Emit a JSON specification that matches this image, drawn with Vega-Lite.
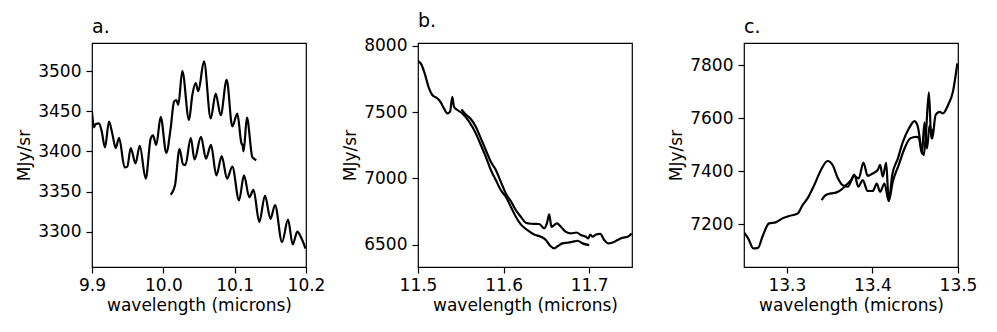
{
"$schema": "https://vega.github.io/schema/vega-lite/v6.json",
"padding": {"left": 14, "top": 11, "right": 5, "bottom": 5},
"bounds": "flush",
"spacing": 112,
"datasets": {
"a": [
{"s":"1","w":9.9000,"v":3450},{"s":"1","w":9.9028,"v":3430},{"s":"1","w":9.9052,"v":3434},{"s":"1","w":9.9098,"v":3435},{"s":"1","w":9.9136,"v":3425},{"s":"1","w":9.9182,"v":3405},{"s":"1","w":9.9238,"v":3437},{"s":"1","w":9.9285,"v":3422},{"s":"1","w":9.9332,"v":3404},{"s":"1","w":9.9379,"v":3417},{"s":"1","w":9.9458,"v":3380},{"s":"1","w":9.9495,"v":3381},{"s":"1","w":9.9543,"v":3404},{"s":"1","w":9.9610,"v":3385},{"s":"1","w":9.9669,"v":3407},{"s":"1","w":9.9753,"v":3366},{"s":"1","w":9.9823,"v":3416},{"s":"1","w":9.9855,"v":3420},{"s":"1","w":9.9901,"v":3408},{"s":"1","w":9.9963,"v":3443},{"s":"1","w":10.0042,"v":3398},{"s":"1","w":10.0103,"v":3429},{"s":"1","w":10.0150,"v":3462},{"s":"1","w":10.0182,"v":3464},{"s":"1","w":10.0210,"v":3458},{"s":"1","w":10.0266,"v":3500},{"s":"1","w":10.0360,"v":3439},{"s":"1","w":10.0406,"v":3470},{"s":"1","w":10.0454,"v":3485},{"s":"1","w":10.0490,"v":3475},{"s":"1","w":10.0570,"v":3512},{"s":"1","w":10.0664,"v":3441},{"s":"1","w":10.0734,"v":3472},{"s":"1","w":10.0804,"v":3445},{"s":"1","w":10.0888,"v":3489},{"s":"1","w":10.0967,"v":3431},{"s":"1","w":10.1037,"v":3447},{"s":"1","w":10.1095,"v":3410},{"s":"1","w":10.1110,"v":3408},{"s":"1","w":10.1125,"v":3400},{"s":"1","w":10.1172,"v":3442},{"s":"1","w":10.1247,"v":3393},{"s":"1","w":10.1270,"v":3391},{"s":"1","w":10.1303,"v":3389},
{"s":"2","w":10.0103,"v":3346},{"s":"2","w":10.0164,"v":3358},{"s":"2","w":10.0227,"v":3403},{"s":"2","w":10.0276,"v":3384},{"s":"2","w":10.0310,"v":3383},{"s":"2","w":10.0384,"v":3417},{"s":"2","w":10.0437,"v":3390},{"s":"2","w":10.0528,"v":3418},{"s":"2","w":10.0598,"v":3391},{"s":"2","w":10.0668,"v":3408},{"s":"2","w":10.0743,"v":3370},{"s":"2","w":10.0818,"v":3394},{"s":"2","w":10.0893,"v":3366},{"s":"2","w":10.0967,"v":3381},{"s":"2","w":10.1061,"v":3339},{"s":"2","w":10.1131,"v":3370},{"s":"2","w":10.1205,"v":3343},{"s":"2","w":10.1264,"v":3352},{"s":"2","w":10.1345,"v":3312},{"s":"2","w":10.1425,"v":3345},{"s":"2","w":10.1502,"v":3316},{"s":"2","w":10.1566,"v":3333},{"s":"2","w":10.1664,"v":3287},{"s":"2","w":10.1748,"v":3315},{"s":"2","w":10.1814,"v":3284},{"s":"2","w":10.1878,"v":3300},{"s":"2","w":10.1930,"v":3293},{"s":"2","w":10.1993,"v":3279}
],
"b": [
{"s":"1","w":11.5000,"v":7885},{"s":"1","w":11.5039,"v":7859},{"s":"1","w":11.5078,"v":7791},{"s":"1","w":11.5129,"v":7678},{"s":"1","w":11.5167,"v":7628},{"s":"1","w":11.5226,"v":7603},{"s":"1","w":11.5266,"v":7572},{"s":"1","w":11.5304,"v":7527},{"s":"1","w":11.5343,"v":7490},{"s":"1","w":11.5374,"v":7502},{"s":"1","w":11.5401,"v":7615},{"s":"1","w":11.5421,"v":7540},{"s":"1","w":11.5460,"v":7515},{"s":"1","w":11.5518,"v":7490},{"s":"1","w":11.5597,"v":7427},{"s":"1","w":11.5675,"v":7339},{"s":"1","w":11.5734,"v":7251},{"s":"1","w":11.5792,"v":7163},{"s":"1","w":11.5851,"v":7063},{"s":"1","w":11.5909,"v":6987},{"s":"1","w":11.5967,"v":6912},{"s":"1","w":11.6026,"v":6861},{"s":"1","w":11.6084,"v":6786},{"s":"1","w":11.6143,"v":6711},{"s":"1","w":11.6201,"v":6653},{"s":"1","w":11.6279,"v":6610},{"s":"1","w":11.6357,"v":6577},{"s":"1","w":11.6435,"v":6560},{"s":"1","w":11.6494,"v":6535},{"s":"1","w":11.6544,"v":6492},{"s":"1","w":11.6591,"v":6472},{"s":"1","w":11.6638,"v":6492},{"s":"1","w":11.6688,"v":6510},{"s":"1","w":11.6747,"v":6515},{"s":"1","w":11.6805,"v":6522},{"s":"1","w":11.6864,"v":6530},{"s":"1","w":11.6922,"v":6510},{"s":"1","w":11.7000,"v":6497},
{"s":"2","w":11.5507,"v":7520},{"s":"2","w":11.5558,"v":7482},{"s":"2","w":11.5617,"v":7447},{"s":"2","w":11.5675,"v":7389},{"s":"2","w":11.5734,"v":7301},{"s":"2","w":11.5792,"v":7214},{"s":"2","w":11.5851,"v":7125},{"s":"2","w":11.5909,"v":7063},{"s":"2","w":11.5967,"v":6975},{"s":"2","w":11.6026,"v":6886},{"s":"2","w":11.6084,"v":6829},{"s":"2","w":11.6143,"v":6761},{"s":"2","w":11.6201,"v":6711},{"s":"2","w":11.6260,"v":6665},{"s":"2","w":11.6318,"v":6658},{"s":"2","w":11.6416,"v":6656},{"s":"2","w":11.6474,"v":6623},{"s":"2","w":11.6506,"v":6660},{"s":"2","w":11.6533,"v":6728},{"s":"2","w":11.6559,"v":6635},{"s":"2","w":11.6591,"v":6648},{"s":"2","w":11.6623,"v":6660},{"s":"2","w":11.6669,"v":6635},{"s":"2","w":11.6728,"v":6597},{"s":"2","w":11.6786,"v":6585},{"s":"2","w":11.6852,"v":6592},{"s":"2","w":11.6903,"v":6573},{"s":"2","w":11.6962,"v":6560},{"s":"2","w":11.6989,"v":6547},{"s":"2","w":11.7012,"v":6577},{"s":"2","w":11.7039,"v":6560},{"s":"2","w":11.7079,"v":6577},{"s":"2","w":11.7129,"v":6582},{"s":"2","w":11.7176,"v":6535},{"s":"2","w":11.7223,"v":6510},{"s":"2","w":11.7273,"v":6517},{"s":"2","w":11.7332,"v":6535},{"s":"2","w":11.7390,"v":6552},{"s":"2","w":11.7449,"v":6560},{"s":"2","w":11.7496,"v":6585}
],
"c": [
{"s":"1","w":13.2500,"v":7170},{"s":"1","w":13.2550,"v":7147},{"s":"1","w":13.2609,"v":7110},{"s":"1","w":13.2664,"v":7112},{"s":"1","w":13.2715,"v":7154},{"s":"1","w":13.2793,"v":7204},{"s":"1","w":13.2871,"v":7208},{"s":"1","w":13.2949,"v":7223},{"s":"1","w":13.3027,"v":7232},{"s":"1","w":13.3125,"v":7241},{"s":"1","w":13.3184,"v":7273},{"s":"1","w":13.3242,"v":7298},{"s":"1","w":13.3320,"v":7348},{"s":"1","w":13.3399,"v":7405},{"s":"1","w":13.3476,"v":7439},{"s":"1","w":13.3535,"v":7424},{"s":"1","w":13.3594,"v":7376},{"s":"1","w":13.3652,"v":7348},{"s":"1","w":13.3711,"v":7342},{"s":"1","w":13.3789,"v":7383},{"s":"1","w":13.3840,"v":7373},{"s":"1","w":13.3895,"v":7433},{"s":"1","w":13.3945,"v":7383},{"s":"1","w":13.4004,"v":7392},{"s":"1","w":13.4062,"v":7405},{"s":"1","w":13.4090,"v":7424},{"s":"1","w":13.4121,"v":7380},{"s":"1","w":13.4161,"v":7432},{"s":"1","w":13.4191,"v":7288},{"s":"1","w":13.4231,"v":7386},{"s":"1","w":13.4297,"v":7448},{"s":"1","w":13.4356,"v":7511},{"s":"1","w":13.4426,"v":7561},{"s":"1","w":13.4492,"v":7589},{"s":"1","w":13.4531,"v":7568},{"s":"1","w":13.4571,"v":7486},{"s":"1","w":13.4601,"v":7461},{"s":"1","w":13.4629,"v":7561},{"s":"1","w":13.4660,"v":7697},{"s":"1","w":13.4688,"v":7524},{"s":"1","w":13.4710,"v":7560},
{"s":"2","w":13.3406,"v":7292},{"s":"2","w":13.3457,"v":7311},{"s":"2","w":13.3516,"v":7317},{"s":"2","w":13.3574,"v":7320},{"s":"2","w":13.3633,"v":7330},{"s":"2","w":13.3691,"v":7348},{"s":"2","w":13.3750,"v":7367},{"s":"2","w":13.3789,"v":7388},{"s":"2","w":13.3836,"v":7342},{"s":"2","w":13.3887,"v":7367},{"s":"2","w":13.3945,"v":7326},{"s":"2","w":13.4004,"v":7326},{"s":"2","w":13.4051,"v":7354},{"s":"2","w":13.4090,"v":7323},{"s":"2","w":13.4141,"v":7354},{"s":"2","w":13.4191,"v":7288},{"s":"2","w":13.4238,"v":7361},{"s":"2","w":13.4308,"v":7424},{"s":"2","w":13.4375,"v":7486},{"s":"2","w":13.4442,"v":7524},{"s":"2","w":13.4512,"v":7530},{"s":"2","w":13.4543,"v":7526},{"s":"2","w":13.4578,"v":7467},{"s":"2","w":13.4609,"v":7584},{"s":"2","w":13.4637,"v":7486},{"s":"2","w":13.4668,"v":7572},{"s":"2","w":13.4700,"v":7524},{"s":"2","w":13.4738,"v":7612},{"s":"2","w":13.4785,"v":7624},{"s":"2","w":13.4824,"v":7618},{"s":"2","w":13.4883,"v":7649},{"s":"2","w":13.4941,"v":7700},{"s":"2","w":13.4992,"v":7806}
]
},
"hconcat": [
{
"title": "a.",
"width": 214, "height": 224,
"data": {"name": "a"},
"mark": {"type": "line", "color": "#000", "strokeWidth": 2.2, "interpolate": "monotone", "clip": true},
"encoding": {
"x": {"field": "w", "type": "quantitative", "title": "wavelength (microns)", "scale": {"domain": [9.9, 10.2], "nice": false, "zero": false}, "axis": {"values": [9.9, 10.0, 10.1, 10.2], "format": ".1f"}},
"y": {"field": "v", "type": "quantitative", "title": "MJy/sr", "scale": {"domain": [3256, 3535], "nice": false, "zero": false}, "axis": {"values": [3300, 3350, 3400, 3450, 3500], "format": "d"}},
"detail": {"field": "s"}
}
},
{
"title": "b.",
"width": 214, "height": 224,
"data": {"name": "b"},
"mark": {"type": "line", "color": "#000", "strokeWidth": 2.2, "interpolate": "monotone", "clip": true},
"encoding": {
"x": {"field": "w", "type": "quantitative", "title": "wavelength (microns)", "scale": {"domain": [11.5, 11.75], "nice": false, "zero": false}, "axis": {"values": [11.5, 11.6, 11.7], "format": ".1f"}},
"y": {"field": "v", "type": "quantitative", "title": "MJy/sr", "scale": {"domain": [6332, 8020], "nice": false, "zero": false}, "axis": {"values": [6500, 7000, 7500, 8000], "format": "d"}},
"detail": {"field": "s"}
}
},
{
"title": "c.",
"width": 214, "height": 224,
"data": {"name": "c"},
"mark": {"type": "line", "color": "#000", "strokeWidth": 2.2, "interpolate": "monotone", "clip": true},
"encoding": {
"x": {"field": "w", "type": "quantitative", "title": "wavelength (microns)", "scale": {"domain": [13.25, 13.5], "nice": false, "zero": false}, "axis": {"values": [13.3, 13.4, 13.5], "format": ".1f"}},
"y": {"field": "v", "type": "quantitative", "title": "MJy/sr", "scale": {"domain": [7040, 7883], "nice": false, "zero": false}, "axis": {"values": [7200, 7400, 7600, 7800], "format": "d"}},
"detail": {"field": "s"}
}
}
],
"config": {
"font": "DejaVu Sans",
"view": {"stroke": "#000", "strokeWidth": 1.2},
"axis": {"domain": false, "grid": false, "tickColor": "#000", "tickWidth": 1.2, "tickSize": 6, "labelFontSize": 17, "labelColor": "#000", "labelFont": "DejaVu Sans", "titleFont": "DejaVu Sans", "titleFontSize": 17, "titleFontWeight": "normal", "titleColor": "#000", "labelOverlap": false, "labelFlush": false},
"axisY": {"labelPadding": 5, "titlePadding": 5, "minExtent": 54, "maxExtent": 54},
"axisX": {"labelPadding": 4, "titlePadding": 4},
"title": {"anchor": "start", "fontSize": 19, "fontWeight": "normal", "color": "#000", "font": "DejaVu Sans", "offset": 6, "frame": "group"}
}
}
